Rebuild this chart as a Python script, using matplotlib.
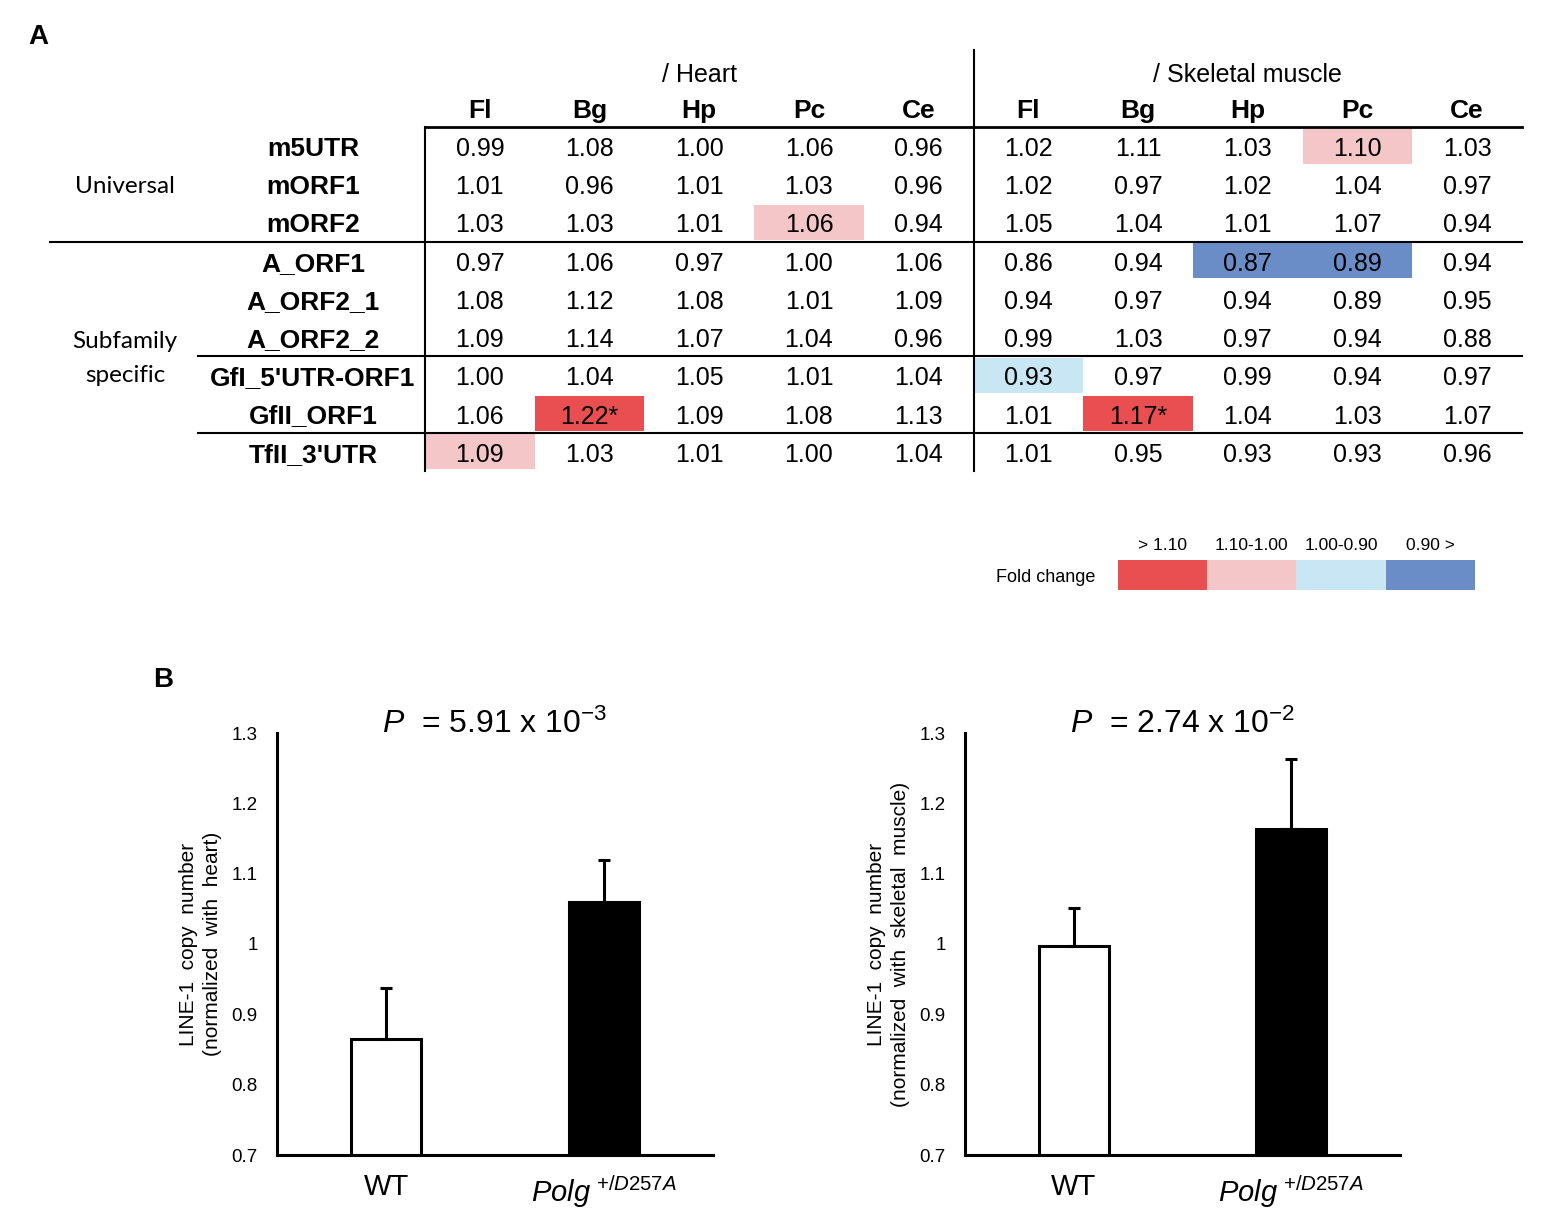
import matplotlib
matplotlib.use('Agg')
import matplotlib.pyplot as plt
from matplotlib.patches import Rectangle

# ---- data: panel A (fold change table) ----
row_labels = ["m5UTR", "mORF1", "mORF2", "A_ORF1", "A_ORF2_1", "A_ORF2_2",
              "GfI_5'UTR-ORF1", "GfII_ORF1", "TfII_3'UTR"]
regions = ["Fl", "Bg", "Hp", "Pc", "Ce"]
tissues = ["/ Heart", "/ Skeletal muscle"]
heart = [[0.99, 1.08, 1.00, 1.06, 0.96],
         [1.01, 0.96, 1.01, 1.03, 0.96],
         [1.03, 1.03, 1.01, 1.06, 0.94],
         [0.97, 1.06, 0.97, 1.00, 1.06],
         [1.08, 1.12, 1.08, 1.01, 1.09],
         [1.09, 1.14, 1.07, 1.04, 0.96],
         [1.00, 1.04, 1.05, 1.01, 1.04],
         [1.06, 1.22, 1.09, 1.08, 1.13],
         [1.09, 1.03, 1.01, 1.00, 1.04]]
skeletal = [[1.02, 1.11, 1.03, 1.10, 1.03],
            [1.02, 0.97, 1.02, 1.04, 0.97],
            [1.05, 1.04, 1.01, 1.07, 0.94],
            [0.86, 0.94, 0.87, 0.89, 0.94],
            [0.94, 0.97, 0.94, 0.89, 0.95],
            [0.99, 1.03, 0.97, 0.94, 0.88],
            [0.93, 0.97, 0.99, 0.94, 0.97],
            [1.01, 1.17, 1.04, 1.03, 1.07],
            [1.01, 0.95, 0.93, 0.93, 0.96]]
# (row, column) of shaded cells, columns 0-4 heart, 5-9 skeletal muscle
highlight = [(0, 8), (2, 3), (3, 7), (3, 8), (6, 5), (7, 1), (7, 6), (8, 0)]
starred = [(7, 1), (7, 6)]
legend_labels = ["> 1.10", "1.10-1.00", "1.00-0.90", "0.90 >"]
legend_colors = ["#E94F51", "#F5C6C8", "#C9E6F5", "#6A8DC7"]

# ---- data: panel B (bar charts) ----
genotypes = ["WT", r"$\mathit{Polg}^{\ \mathit{+/D257A}}$"]
heart_mean = [0.865, 1.060]
heart_err = [0.073, 0.060]
muscle_mean = [0.997, 1.163]
muscle_err = [0.054, 0.100]
yticks = [0.7, 0.8, 0.9, 1.0, 1.1, 1.2, 1.3]
ytick_labels = ["0.7", "0.8", "0.9", "1", "1.1", "1.2", "1.3"]

plt.rcParams['font.family'] = ['Liberation Sans', 'DejaVu Sans']
plt.rcParams['mathtext.fontset'] = 'custom'
plt.rcParams['mathtext.rm'] = 'Liberation Sans'
plt.rcParams['mathtext.it'] = 'Liberation Sans:italic'
plt.rcParams['mathtext.bf'] = 'Liberation Sans:bold'


def fold_color(v):
    if v > 1.10:
        return legend_colors[0]
    if v >= 1.00:
        return legend_colors[1]
    if v >= 0.90:
        return legend_colors[2]
    return legend_colors[3]


fig = plt.figure(figsize=(15.5, 12.29), dpi=100)

# overlay axes in pixel units for the table
ax_t = fig.add_axes([0, 0, 1, 1])
ax_t.set_xlim(0, 1550)
ax_t.set_ylim(1229, 0)
ax_t.axis('off')

X0, CW = 425, 109.7
Y0, RH = 127, 38.2
DY = 3  # text nudge so glyphs sit in the middle of the row
ncol = 10
nrow = len(row_labels)

for r in range(nrow):
    yc = Y0 + (r + 0.5) * RH
    ax_t.text(313, yc + DY, row_labels[r], ha='center', va='center', fontsize=19,
              weight='bold')
    vals = heart[r] + skeletal[r]
    for c, v in enumerate(vals):
        if (r, c) in highlight:
            ax_t.add_patch(Rectangle((X0 + c * CW, Y0 + r * RH + 1.5), CW, RH - 3,
                                     color=fold_color(v), lw=0, zorder=1))
        txt = f"{v:.2f}" + ("*" if (r, c) in starred else "")
        ax_t.text(X0 + (c + 0.5) * CW, yc + DY, txt, ha='center', va='center',
                  fontsize=18, zorder=2)

for c in range(ncol):
    ax_t.text(X0 + (c + 0.5) * CW, 108 + DY, regions[c % 5], ha='center', va='center',
              fontsize=19, weight='bold')
for i, t in enumerate(tissues):
    ax_t.text(X0 + (2.5 + 5 * i) * CW, 72 + DY, t, ha='center', va='center', fontsize=18)

right = X0 + ncol * CW
bottom = Y0 + nrow * RH
ax_t.plot([X0, right], [Y0, Y0], color='black', lw=2)
ax_t.plot([X0, X0], [Y0, bottom], color='black', lw=1.5)
ax_t.plot([X0 + 5 * CW] * 2, [50, bottom], color='black', lw=1.5)
ax_t.plot([50, right], [Y0 + 3 * RH] * 2, color='black', lw=1.5)
ax_t.plot([198, right], [Y0 + 6 * RH] * 2, color='black', lw=1.5)
ax_t.plot([198, right], [Y0 + 8 * RH] * 2, color='black', lw=1.5)

ax_t.text(125, Y0 + 1.5 * RH + 2, "Universal", ha='center', va='center', fontsize=17.5, family='Lato')
ax_t.text(125, 341, "Subfamily", ha='center', va='center', fontsize=17.5, family='Lato')
ax_t.text(125, 375, "specific", ha='center', va='center', fontsize=17.5, family='Lato')

# legend
LX0, LW, LY, LH = 1118, 89.2, 560, 30
for i, lab in enumerate(legend_labels):
    ax_t.add_patch(Rectangle((LX0 + i * LW, LY), LW, LH, color=legend_colors[i], lw=0))
    ax_t.text(LX0 + (i + 0.5) * LW, 546, lab, ha='center', va='center', fontsize=12.5)
ax_t.text(1095, 578, "Fold change", ha='right', va='center', fontsize=13)

ax_t.text(38, 37, "A", ha='center', va='center', fontsize=20, weight='bold')
ax_t.text(163, 680, "B", ha='center', va='center', fontsize=20, weight='bold')


# ---- panel B ----
def draw_bars(ax, means, errs, ylabel, title):
    x = list(range(len(means)))
    ax.bar(x, means, width=0.32, color=['white', 'black'], edgecolor='black',
           linewidth=2.2, zorder=2)
    ax.errorbar(x, means, yerr=[[0] * len(errs), errs], fmt='none', ecolor='black',
                elinewidth=2.2, capsize=4.5, capthick=2.2, zorder=3)
    ax.set_xlim(-0.5, 1.5)
    ax.set_ylim(0.7, 1.3)
    ax.set_yticks(yticks)
    ax.set_yticklabels(ytick_labels)
    ax.set_xticks(x)
    ax.set_xticklabels(genotypes, fontsize=21)
    ax.tick_params(axis='y', length=0, pad=14, labelsize=13.5)
    ax.tick_params(axis='x', length=0, pad=13)
    for s in ['top', 'right']:
        ax.spines[s].set_visible(False)
    for s in ['left', 'bottom']:
        ax.spines[s].set_linewidth(2.2)
    ax.set_ylabel(ylabel, fontsize=15, labelpad=7, linespacing=1.3)
    ax.set_title(title, fontsize=23, y=1.0, pad=0)


ax_h = fig.add_axes([277 / 1550, 74 / 1229, 436 / 1550, 422 / 1229])
ax_m = fig.add_axes([965 / 1550, 74 / 1229, 435 / 1550, 422 / 1229])
draw_bars(ax_h, heart_mean, heart_err,
          "LINE-1  copy  number\n(normalized  with  heart)",
          r"$\mathit{P}$  = 5.91 x $10^{-3}$")
draw_bars(ax_m, muscle_mean, muscle_err,
          "LINE-1  copy  number\n(normalized  with  skeletal  muscle)",
          r"$\mathit{P}$  = 2.74 x $10^{-2}$")

fig.savefig('out.png', dpi=100)
